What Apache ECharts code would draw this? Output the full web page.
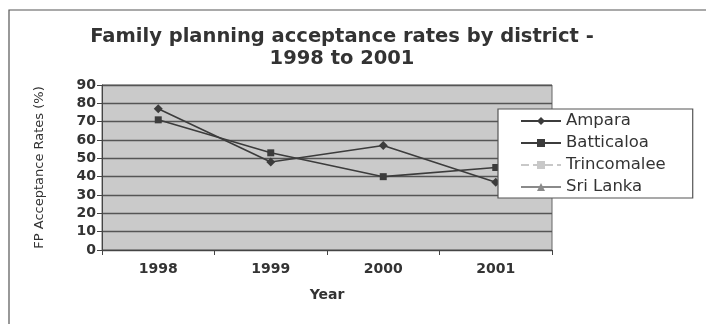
<!DOCTYPE html>
<html>
<head>
<meta charset="utf-8">
<script src="https://cdn.jsdelivr.net/npm/echarts@6/dist/echarts.min.js"></script>
<style>
  html, body { margin: 0; padding: 0; background: #ffffff; }
  #chart { width: 706px; height: 324px; }
</style>
</head>
<body>
<div id="chart"></div>
<script>
// Years on the category axis
const years = ['1998', '1999', '2000', '2001'];

// Acceptance rates (%) per district
const ampara = [77, 48, 57, 37];
const batticaloa = [71, 53, 40, 45];
const trincomalee = [null, null, null, null];
const sriLanka = [null, null, null, null];

// Value axis ticks
const yMin = 0;
const yMax = 90;
const yStep = 10;

const font = 'DejaVu Sans, Verdana, sans-serif';
const ink = '#333333';

const chart = echarts.init(document.getElementById('chart'));

chart.setOption({
  animation: false,
  backgroundColor: '#ffffff',
  graphic: [
    {
      type: 'rect',
      shape: { x: 9, y: 10, width: 720, height: 340 },
      style: { fill: 'none', stroke: '#555', lineWidth: 1.2 },
      silent: true
    }
  ],
  title: {
    text: 'Family planning acceptance rates by district -\n1998 to 2001',
    left: 337,
    textAlign: 'center',
    top: 21,
    textStyle: {
      fontFamily: font,
      fontWeight: 'bold',
      fontSize: 19.5,
      lineHeight: 22,
      color: ink
    }
  },
  grid: {
    left: 102,
    top: 85,
    width: 450,
    height: 165,
    show: true,
    backgroundColor: '#cacaca',
    borderColor: '#666',
    borderWidth: 1
  },
  legend: {
    orient: 'vertical',
    left: 498,
    top: 109,
    backgroundColor: '#ffffff',
    borderColor: '#555',
    borderWidth: 1.2,
    borderRadius: 0,
    padding: [3, 27, 2, 22],
    itemWidth: 40,
    itemHeight: 10,
    itemGap: 4,
    textStyle: { fontFamily: font, fontSize: 16.5, color: ink, lineHeight: 18 },
    data: ['Ampara', 'Batticaloa', 'Trincomalee', 'Sri Lanka']
  },
  xAxis: {
    type: 'category',
    data: years,
    boundaryGap: true,
    name: 'Year',
    nameLocation: 'middle',
    nameGap: 38,
    nameTextStyle: { fontFamily: font, fontWeight: 'bold', fontSize: 14, color: ink },
    axisLine: { lineStyle: { color: '#444', width: 1 } },
    axisTick: { show: true, alignWithLabel: false, length: 5, lineStyle: { color: '#444' } },
    axisLabel: { fontFamily: font, fontWeight: 'bold', fontSize: 14, color: ink, margin: 12 }
  },
  yAxis: {
    type: 'value',
    min: yMin,
    max: yMax,
    interval: yStep,
    name: 'FP Acceptance Rates (%)',
    nameLocation: 'middle',
    nameGap: 56,
    nameTextStyle: { fontFamily: font, fontSize: 13, color: ink },
    axisLine: { show: true, lineStyle: { color: '#444', width: 1 } },
    axisTick: { show: true, length: 5, lineStyle: { color: '#444' } },
    axisLabel: { fontFamily: font, fontWeight: 'bold', fontSize: 14, color: ink, margin: 6 },
    splitLine: { show: true, lineStyle: { color: '#555', width: 1.3 } }
  },
  series: [
    {
      name: 'Ampara',
      type: 'line',
      data: ampara,
      symbol: 'diamond',
      symbolSize: 9,
      itemStyle: { color: '#3c3c3c' },
      lineStyle: { color: '#3c3c3c', width: 1.6 }
    },
    {
      name: 'Batticaloa',
      type: 'line',
      data: batticaloa,
      symbol: 'rect',
      symbolSize: 7,
      itemStyle: { color: '#3c3c3c' },
      lineStyle: { color: '#3c3c3c', width: 1.6 }
    },
    {
      name: 'Trincomalee',
      type: 'line',
      data: trincomalee,
      symbol: 'rect',
      symbolSize: 5,
      itemStyle: { color: '#c8c8c8' },
      lineStyle: { color: '#c8c8c8', width: 1.2, type: 'dashed' }
    },
    {
      name: 'Sri Lanka',
      type: 'line',
      data: sriLanka,
      symbol: 'triangle',
      symbolSize: 6,
      itemStyle: { color: '#8a8a8a' },
      lineStyle: { color: '#8a8a8a', width: 1.2 }
    }
  ]
});
</script>
</body>
</html>
